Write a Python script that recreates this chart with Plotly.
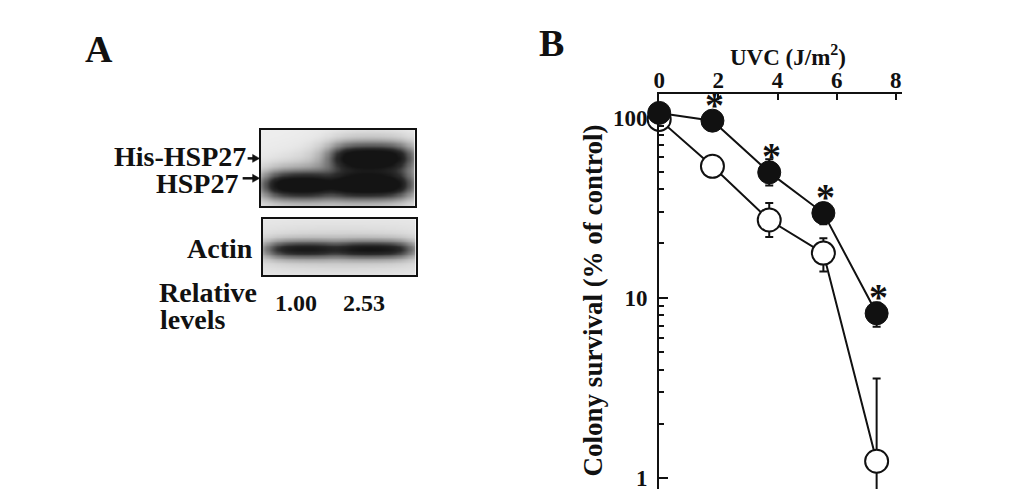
import numpy as np
import plotly.graph_objects as go

# ---------------- data ----------------
uvc_dose = [0, 1.8, 3.72, 5.55, 7.35]
control_survival = [97.5, 53.6, 27.0, 17.7, 1.24]
control_err_plus = [0, 0, 6.5, 3.7, 2.33]
control_err_minus = [0, 0, 5.3, 3.7, 1.2]
hsp27_survival = [106, 96, 49.6, 29.5, 8.2]
hsp27_err_plus = [0, 0, 9.0, 3.0, 1.2]
hsp27_err_minus = [0, 0, 7.6, 3.9, 1.3]
significant = [False, True, True, True, True]

x_ticks = [0, 2, 4, 6, 8]
y_ticks = [1, 10, 100]
y_minor = [2, 3, 4, 5, 6, 7, 8, 9, 20, 30, 40, 50, 60, 70, 80, 90]

# western blot band intensities (lane 1, lane 2)
blot_lanes = ["Vector", "His-HSP27"]
his_hsp27_band = [0.0, 0.95]
hsp27_band = [1.0, 0.98]
actin_band = [0.72, 0.75]
relative_levels = ["1.00", "2.53"]

# ---------------- style ----------------
OFF = 8                     # page body margin
W, H = 1033 - OFF, 499 - OFF
SERIF = "Liberation Serif"
BLACK = "#111111"


def px_x(p):
    return (p - OFF) / W


def px_y(p):
    return 1 - (p - OFF) / H


fig = go.Figure()

# ---------- panel B ----------
fig.add_trace(go.Scatter(
    x=uvc_dose, y=control_survival, mode="lines+markers",
    line=dict(color=BLACK, width=2),
    marker=dict(size=23, color="white", line=dict(color=BLACK, width=2)),
    error_y=dict(type="data", symmetric=False, array=control_err_plus,
                 arrayminus=control_err_minus, color=BLACK, thickness=2, width=4),
    cliponaxis=False, showlegend=False, hoverinfo="skip",
    xaxis="x", yaxis="y"))
fig.add_trace(go.Scatter(
    x=uvc_dose, y=hsp27_survival, mode="lines+markers",
    line=dict(color=BLACK, width=2),
    marker=dict(size=23, color=BLACK, line=dict(color=BLACK, width=1)),
    error_y=dict(type="data", symmetric=False, array=hsp27_err_plus,
                 arrayminus=hsp27_err_minus, color=BLACK, thickness=2, width=4),
    cliponaxis=False, showlegend=False, hoverinfo="skip",
    xaxis="x", yaxis="y"))

annotations = []
for d, v, s in zip(uvc_dose, hsp27_survival, significant):
    if s:
        annotations.append(dict(
            x=d, y=np.log10(v), xref="x", yref="y", text="*", showarrow=False,
            font=dict(family=SERIF, size=38, color=BLACK, weight="bold"),
            xanchor="center", yanchor="middle", xshift=2, yshift=16))

# ---------- panel A: blot heatmaps ----------
def band_image(bands, lane_spans, nx=140, ny=70, bg=0.08, soft=0.05):
    xs = np.linspace(0, 1, nx)
    ys = np.linspace(0, 1, ny)
    X, Y = np.meshgrid(xs, ys)
    z = np.full_like(X, bg)
    for intens, yc, hh in bands:
        for (x0, x1), val in zip(lane_spans, intens):
            lane = 1 / (1 + np.exp(-(X - x0) / soft)) * 1 / (1 + np.exp((X - x1) / soft))
            wide = 1 / (1 + np.exp(-(X - x0 + 0.04) / (2 * soft))) * \
                1 / (1 + np.exp((X - x1 - 0.04) / (2 * soft)))
            prof = np.exp(-np.abs((Y - yc) / hh) ** 2)
            haze = np.exp(-np.abs((Y - yc) / (2.2 * hh)) ** 2)
            z = z + val * (lane * prof + 0.18 * wide * haze)
    return xs, ys, np.clip(z, 0, 1)


gray_scale = [[0, "#fbfbfb"], [0.12, "#e8e8e8"], [0.45, "#8a8a8a"], [0.8, "#2c2c2c"], [1, "#141414"]]

xs, ys, z_top = band_image(
    [(hsp27_band, 0.28, 0.17), (his_hsp27_band, 0.64, 0.17)],
    [(0.04, 0.43), (0.48, 0.95)])
fig.add_trace(go.Heatmap(x=xs, y=ys, z=z_top, zmin=0, zmax=1, colorscale=gray_scale,
                         showscale=False, zsmooth="best", hoverinfo="skip",
                         xaxis="x2", yaxis="y2"))
xs, ys, z_bot = band_image(
    [(actin_band, 0.46, 0.15)],
    [(0.04, 0.46), (0.50, 0.96)], bg=0.12)
fig.add_trace(go.Heatmap(x=xs, y=ys, z=z_bot, zmin=0, zmax=1, colorscale=gray_scale,
                         showscale=False, zsmooth="best", hoverinfo="skip",
                         xaxis="x3", yaxis="y3"))

lab_font = dict(family=SERIF, size=28, color=BLACK, weight="bold")

def ptext(text, x, y, xa="center", size=None):
    f = dict(lab_font)
    if size:
        f["size"] = size
    annotations.append(dict(text=text, x=px_x(x), y=px_y(y), xref="paper", yref="paper",
                            showarrow=False, xanchor=xa, yanchor="middle", font=f))


ptext("A", 94, 49, size=38)
ptext("B", 549, 43, size=38)
ptext("His-HSP27", 243, 157, xa="right")
ptext("HSP27", 235, 184, xa="right")
ptext("Actin", 250, 249, xa="right")
ptext("Relative", 152, 294, xa="left")
ptext("levels", 153, 321, xa="left")
lane_centers = [292, 360]
for lbl, cx in zip(relative_levels, lane_centers):
    ptext(lbl, cx, 304, size=24)

shapes = []
for (x0, x1, yy) in [(243, 255, 159), (238, 255, 179)]:
    shapes.append(dict(type="line", xref="paper", yref="paper",
                       x0=px_x(x0), x1=px_x(x1 - 5), y0=px_y(yy), y1=px_y(yy),
                       line=dict(color=BLACK, width=2.5)))
    shapes.append(dict(type="path", xref="paper", yref="paper",
                       path=f"M {px_x(x1)} {px_y(yy)} L {px_x(x1 - 7)} {px_y(yy - 4)} "
                            f"L {px_x(x1 - 7)} {px_y(yy + 4)} Z",
                       fillcolor=BLACK, line=dict(color=BLACK, width=0.5)))

# titles of panel B
annotations.append(dict(text="UVC (J/m<sup>2</sup>)", x=px_x(787), y=px_y(56),
                        xref="paper", yref="paper", showarrow=False,
                        xanchor="center", yanchor="middle",
                        font=dict(family=SERIF, size=23, color=BLACK, weight="bold")))
annotations.append(dict(text="Colony survival (% of control)", x=px_x(590), y=px_y(302),
                        xref="paper", yref="paper", showarrow=False, textangle=-90,
                        xanchor="center", yanchor="middle",
                        font=dict(family=SERIF, size=27, color=BLACK, weight="bold")))

tick_font = dict(family=SERIF, size=23, color=BLACK, weight="bold")

blot_axis = dict(range=[0, 1], showline=True, mirror=True, linecolor=BLACK, linewidth=1.5,
                 showticklabels=False, ticks="", showgrid=False, zeroline=False, fixedrange=True)

fig.update_layout(
    width=W, height=H,
    margin=dict(l=0, r=0, t=0, b=0),
    paper_bgcolor="white", plot_bgcolor="rgba(0,0,0,0)",
    xaxis=dict(domain=[px_x(657), px_x(901)], range=[0, 8.2], side="top",
               tickvals=x_ticks, ticks="inside", ticklen=6, tickwidth=2, tickcolor=BLACK,
               showline=True, linecolor=BLACK, linewidth=2, showgrid=False, zeroline=False,
               tickfont=tick_font, ticklabelstandoff=-6, anchor="y"),
    yaxis=dict(domain=[px_y(491), px_y(94)], type="log", range=[-0.0608, 2.132],
               tickvals=y_ticks, ticktext=[str(v) for v in y_ticks],
               ticks="inside", ticklen=9, tickwidth=2, tickcolor=BLACK,
               minor=dict(tickvals=y_minor, ticks="inside", ticklen=5, tickwidth=2,
                          tickcolor=BLACK, showgrid=False),
               showline=True, linecolor=BLACK, linewidth=2, showgrid=False, zeroline=False,
               tickfont=tick_font, ticklabelstandoff=5, anchor="x"),
    xaxis2=dict(domain=[px_x(256), px_x(411)], anchor="y2", **blot_axis),
    yaxis2=dict(domain=[px_y(207), px_y(130)], anchor="x2", **blot_axis),
    xaxis3=dict(domain=[px_x(258), px_x(412)], anchor="y3", **blot_axis),
    yaxis3=dict(domain=[px_y(276), px_y(220)], anchor="x3", **blot_axis),
    annotations=annotations,
    shapes=shapes,
)

fig.write_html("out.html")
